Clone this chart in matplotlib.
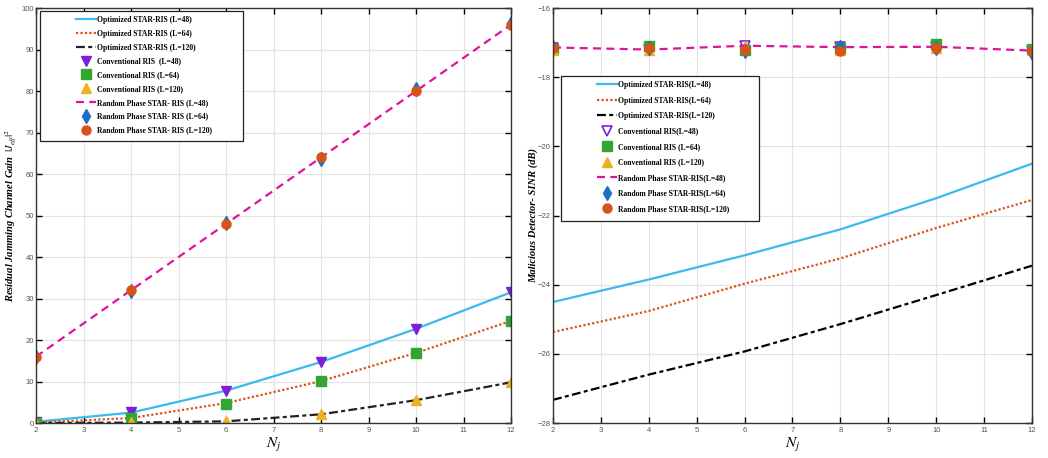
import matplotlib.pyplot as plt
from matplotlib.patches import Rectangle

plt.rcParams["mathtext.fontset"] = "stix"

nj = [2, 4, 6, 8, 10, 12]

# left panel: residual jamming channel gain
gain_opt_48 = [0.3, 2.5, 7.8, 14.7, 22.7, 31.5]
gain_opt_64 = [0.1, 1.2, 4.8, 10.1, 16.9, 24.6]
gain_opt_120 = [0.0, 0.1, 0.4, 2.1, 5.5, 9.8]
gain_conv_48 = [0.3, 2.6, 7.7, 14.7, 22.6, 31.6]
gain_conv_64 = [0.1, 1.3, 4.7, 10.1, 16.9, 24.6]
gain_conv_120 = [0.1, 0.3, 0.5, 2.1, 5.6, 9.9]
gain_rand_48 = [16.0, 32.0, 48.0, 64.0, 80.0, 96.0]
gain_rand_64 = [16.0, 31.8, 48.2, 63.6, 80.6, 96.3]
gain_rand_120 = [16.0, 32.1, 48.0, 64.2, 80.1, 95.8]

# right panel: malicious detector SINR (dB)
sinr_opt_48 = [-24.5, -23.85, -23.15, -22.4, -21.5, -20.5]
sinr_opt_64 = [-25.37, -24.76, -23.97, -23.24, -22.36, -21.55]
sinr_opt_120 = [-27.33, -26.6, -25.93, -25.14, -24.3, -23.45]
sinr_conv_48 = [-17.15, -17.2, -17.1, -17.13, -17.12, -17.23]
sinr_conv_64 = [-17.18, -17.1, -17.2, -17.15, -17.05, -17.18]
sinr_conv_120 = [-17.2, -17.2, -17.1, -17.22, -17.15, -17.2]
sinr_rand_48 = [-17.14, -17.2, -17.09, -17.13, -17.12, -17.23]
sinr_rand_64 = [-17.12, -17.15, -17.25, -17.12, -17.15, -17.3]
sinr_rand_120 = [-17.15, -17.15, -17.22, -17.25, -17.15, -17.23]

c_cyan = "#3bb9ee"
c_orange = "#d95319"
c_purple = "#7d1fd8"
c_green = "#33a532"
c_yellow = "#edb120"
c_pink = "#e0119d"
c_blue = "#1f6fc0"
c_circ = "#d95319"

ls_dot = (0, (1, 1))
ls_dashdot = (0, (4, 1.5, 1.8, 1.5))
ls_dash = (0, (3.6, 2.4))

fig = plt.figure(figsize=(10.48, 4.58), dpi=100)
ax1 = fig.add_axes([0.0344, 0.0764, 0.4532, 0.906])
ax2 = fig.add_axes([0.5277, 0.0764, 0.457, 0.906])

label_font = dict(family="Liberation Serif", weight="bold", style="italic", fontsize=7.6)
leg_font = dict(family="Liberation Serif", weight="bold", size=5.5)


def style_axes(ax):
    ax.grid(True, color="#e3e3e3", linewidth=0.8)
    ax.set_axisbelow(True)
    ax.tick_params(direction="in", length=4, width=1, labelsize=5.5,
                   labelcolor="#555555", top=True, right=True, pad=3)
    ax.tick_params(axis="y", pad=1.5)
    for s in ax.spines.values():
        s.set_color("#333333")
        s.set_linewidth(1.0)
    ax.set_xlim(2, 12)
    ax.set_xticks(range(2, 13))
    for lab in ax.get_xticklabels() + ax.get_yticklabels():
        lab.set_family("Liberation Sans")
    ax.set_xlabel("$N_j$", fontsize=11, labelpad=1)


def boxed_legend(ax, box, anchor, spacing):
    # MATLAB-style legend: a wide frame with the entries sitting to its right side
    x0, y0, x1, y1 = box
    ax.add_patch(Rectangle((x0, y0), x1 - x0, y1 - y0, transform=ax.transAxes,
                           facecolor="white", edgecolor="#222222", linewidth=0.9,
                           zorder=6, clip_on=False))
    leg = ax.legend(loc="upper left", bbox_to_anchor=anchor, prop=leg_font,
                    frameon=False, handlelength=2.6, borderpad=0, labelspacing=spacing,
                    handletextpad=0.15, borderaxespad=0)
    leg.set_zorder(7)
    return leg


# left
ax1.plot(nj, gain_opt_48, color=c_cyan, lw=1.6, label="Optimized STAR-RIS (L=48)")
ax1.plot(nj, gain_opt_64, color=c_orange, lw=1.6, ls=ls_dot, label="Optimized STAR-RIS (L=64)")
ax1.plot(nj, gain_opt_120, color="#222222", lw=1.6, ls=ls_dashdot, label="Optimized STAR-RIS (L=120)")
ax1.plot(nj, gain_conv_48, ls="none", marker="v", ms=7, color=c_purple, label="Conventional RIS  (L=48)")
ax1.plot(nj, gain_conv_64, ls="none", marker="s", ms=6.5, color=c_green, label="Conventional RIS (L=64)")
ax1.plot(nj, gain_conv_120, ls="none", marker="^", ms=7.5, color=c_yellow, label="Conventional RIS (L=120)")
ax1.plot(nj, gain_rand_48, color=c_pink, lw=1.6, ls=ls_dash, label="Random Phase STAR- RIS (L=48)")
ax1.plot(nj, gain_rand_64, ls="none", marker="d", ms=7.5, color=c_blue, label="Random Phase STAR- RIS (L=64)")
ax1.plot(nj, gain_rand_120, ls="none", marker="o", ms=6.5, color=c_circ, label="Random Phase STAR- RIS (L=120)")
ax1.set_ylim(0, 100)
ax1.set_yticks(range(0, 101, 10))
style_axes(ax1)
ax1.set_ylabel("Residual Jamming Channel Gain  $|J_{eff}|^2$", **label_font)
ax1.yaxis.set_label_coords(-0.038, 0.5)
boxed_legend(ax1, (0.0084, 0.68, 0.436, 0.993), (0.084, 0.981), 0.76)

# right
ax2.plot(nj, sinr_opt_48, color=c_cyan, lw=1.6, label="Optimized STAR-RIS(L=48)")
ax2.plot(nj, sinr_opt_64, color=c_orange, lw=1.6, ls=ls_dot, label="Optimized STAR-RIS(L=64)")
ax2.plot(nj, sinr_opt_120, color="black", lw=1.6, ls=ls_dashdot, label="Optimized STAR-RIS(L=120)")
ax2.plot(nj, sinr_conv_48, ls="none", marker="v", ms=7, mfc="white", mec=c_purple, mew=1.2,
         label="Conventional RIS(L=48)")
ax2.plot(nj, sinr_conv_64, ls="none", marker="s", ms=6.5, color=c_green, label="Conventional RIS (L=64)")
ax2.plot(nj, sinr_conv_120, ls="none", marker="^", ms=7.5, color=c_yellow, label="Conventional RIS (L=120)")
ax2.plot(nj, sinr_rand_48, color=c_pink, lw=1.6, ls=ls_dash, label="Random Phase STAR-RIS(L=48)")
ax2.plot(nj, sinr_rand_64, ls="none", marker="d", ms=7.5, color=c_blue, label="Random Phase STAR-RIS(L=64)")
ax2.plot(nj, sinr_rand_120, ls="none", marker="o", ms=6.5, color=c_circ, label="Random Phase STAR-RIS(L=120)")
ax2.set_ylim(-28, -16)
ax2.set_yticks(range(-28, -15, 2))
style_axes(ax2)
ax2.set_ylabel("Malicious Detector- SINR (dB)", **label_font)
ax2.yaxis.set_label_coords(-0.032, 0.5)
boxed_legend(ax2, (0.0167, 0.487, 0.43, 0.836), (0.092, 0.824), 0.98)

fig.savefig("out.png", dpi=100)
